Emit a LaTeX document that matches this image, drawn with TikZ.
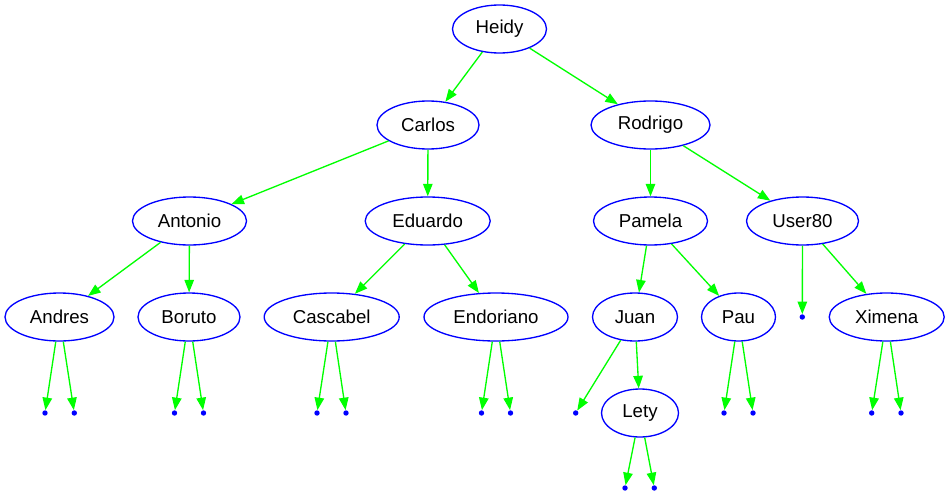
\documentclass[tikz,border=0pt]{standalone}
\usepackage{fontspec}
\setmainfont{Liberation Sans}
\usetikzlibrary{shapes.geometric,arrows.meta}
\begin{document}
\begin{tikzpicture}[x=1pt,y=-1pt,
    person/.style={ellipse,draw=blue,line width=1.33pt,inner sep=0pt,
        minimum height=48pt,font=\fontsize{18.67pt}{22pt}\selectfont},
    nil/.style={circle,fill=blue,inner sep=0pt,minimum size=5.4pt},
    link/.style={draw=green,line width=1.33pt,-{Triangle[length=12.5pt,width=9.5pt]}}]
    \useasboundingbox (0,0) rectangle (949,495);
    %% vertices
    \node [person,minimum width=94pt]  (heidy)     at (499.5,29)  {Heidy};
    \node [person,minimum width=102pt] (carlos)    at (428,125)   {Carlos};
    \node [person,minimum width=119pt] (rodrigo)   at (650.5,125) {Rodrigo};
    \node [person,minimum width=114pt] (antonio)   at (189.5,221) {Antonio};
    \node [person,minimum width=125pt] (eduardo)   at (427.7,221) {Eduardo};
    \node [person,minimum width=114pt] (pamela)    at (650.5,221) {Pamela};
    \node [person,minimum width=112pt] (user80)    at (802.5,221) {User80};
    \node [person,minimum width=109pt] (andres)    at (59.5,317)  {Andres};
    \node [person,minimum width=102pt] (boruto)    at (189,317)   {Boruto};
    \node [person,minimum width=135pt] (cascabel)  at (331.7,317) {Cascabel};
    \node [person,minimum width=144pt] (endoriano) at (496,317)   {Endoriano};
    \node [person,minimum width=85pt]  (juan)      at (635,317)   {Juan};
    \node [person,minimum width=74pt]  (pau)       at (738.5,317) {Pau};
    \node [person,minimum width=115pt] (ximena)    at (886.7,317) {Ximena};
    \node [person,minimum width=77pt]  (lety)      at (640,413)   {Lety};
    %% empty leaves
    \node [nil] (andresl)    at (45,413)    {};
    \node [nil] (andresr)    at (74.3,413)  {};
    \node [nil] (borutol)    at (174.5,413) {};
    \node [nil] (borutor)    at (203.5,413) {};
    \node [nil] (cascabell)  at (317,413)   {};
    \node [nil] (cascabelr)  at (346,413)   {};
    \node [nil] (endorianol) at (481.5,413) {};
    \node [nil] (endorianor) at (510.5,413) {};
    \node [nil] (juanl)      at (575.7,413) {};
    \node [nil] (paul)       at (724,413)   {};
    \node [nil] (paur)       at (753,413)   {};
    \node [nil] (user80l)    at (802.3,317) {};
    \node [nil] (ximenal)    at (871.7,413) {};
    \node [nil] (ximenar)    at (901,413)   {};
    \node [nil] (letyl)      at (625,488)   {};
    \node [nil] (letyr)      at (654.3,488) {};

    %% edges
    \draw [link] (heidy) -- (carlos);
    \draw [link] (heidy) -- (rodrigo);
    \draw [link] (carlos) -- (antonio);
    \draw [link] (carlos) -- (eduardo);
    \draw [link] (rodrigo) -- (pamela);
    \draw [link] (rodrigo) -- (user80);
    \draw [link] (antonio) -- (andres);
    \draw [link] (antonio) -- (boruto);
    \draw [link] (eduardo) -- (cascabel);
    \draw [link] (eduardo) -- (endoriano);
    \draw [link] (pamela) -- (juan);
    \draw [link] (pamela) -- (pau);
    \draw [link] (user80) -- (user80l);
    \draw [link] (user80) -- (ximena);
    \draw [link] (juan) -- (juanl);
    \draw [link] (juan) -- (lety);
    \draw [link] (andres) -- (andresl);
    \draw [link] (andres) -- (andresr);
    \draw [link] (boruto) -- (borutol);
    \draw [link] (boruto) -- (borutor);
    \draw [link] (cascabel) -- (cascabell);
    \draw [link] (cascabel) -- (cascabelr);
    \draw [link] (endoriano) -- (endorianol);
    \draw [link] (endoriano) -- (endorianor);
    \draw [link] (pau) -- (paul);
    \draw [link] (pau) -- (paur);
    \draw [link] (ximena) -- (ximenal);
    \draw [link] (ximena) -- (ximenar);
    \draw [link] (lety) -- (letyl);
    \draw [link] (lety) -- (letyr);
\end{tikzpicture}
\end{document}
